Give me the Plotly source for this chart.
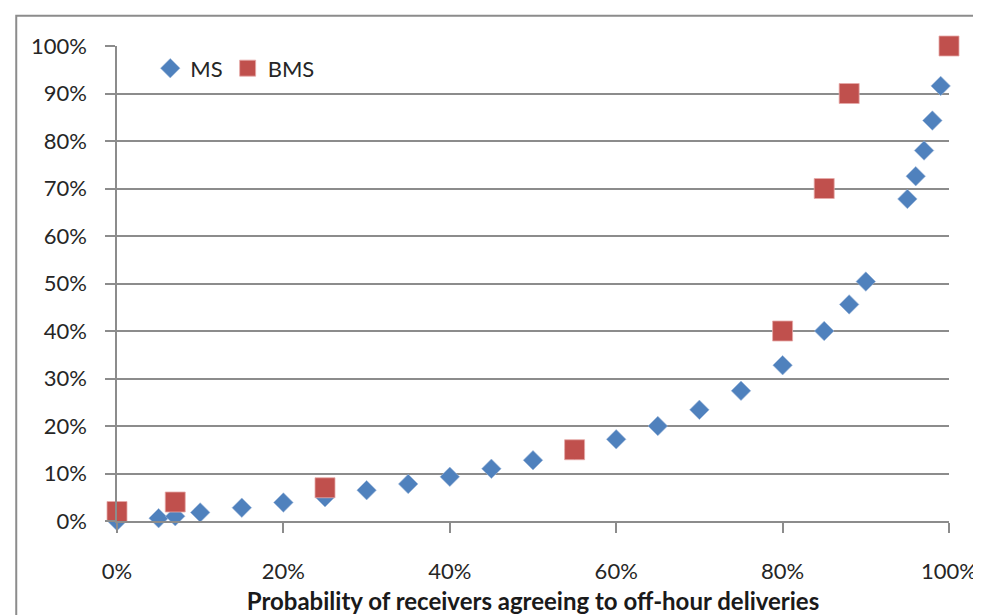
import plotly.graph_objects as go

# MS series (blue diamonds): probability of agreeing vs share
ms_x = [0, 5, 7, 10, 15, 20, 25, 30, 35, 40, 45, 50, 55, 60, 65, 70, 75, 80, 85, 88, 90, 95, 96, 97, 98, 99]
ms_y = [0, 0.6, 1.0, 1.8, 2.8, 3.9, 5.0, 6.5, 7.8, 9.3, 11.0, 12.8, 15.0, 17.2, 20.0, 23.4, 27.4, 32.8, 40.0, 45.6, 50.4, 67.8, 72.6, 78.0, 84.3, 91.6]

# BMS series (red squares)
bms_x = [0, 7, 25, 55, 80, 85, 88, 100]
bms_y = [2, 4, 7, 15, 40, 70, 90, 100]

x_title = "Probability of receivers agreeing to off-hour deliveries"

BLUE = "#4F81BD"
RED = "#C0504D"
GRID = "#8C8C8C"
FONT = "Lato"

fig = go.Figure()
fig.add_trace(go.Scatter(
    x=[v / 100 for v in ms_x], y=[v / 100 for v in ms_y],
    mode="markers", name="MS", cliponaxis=False,
    marker=dict(symbol="diamond", size=15, color=BLUE,
                line=dict(width=0.6, color="#9DB7DA")),
))
fig.add_trace(go.Scatter(
    x=[v / 100 for v in bms_x], y=[v / 100 for v in bms_y],
    mode="markers", name="BMS", cliponaxis=False,
    marker=dict(symbol="square", size=20, color=RED,
                line=dict(width=0.8, color="#E6A9A8")),
))

# outer chart-area border (left and top edges visible)
fig.add_shape(type="rect", xref="paper", yref="paper",
              x0=-0.1211, y0=-0.25, x1=1.2, y1=1.0638,
              line=dict(color=GRID, width=2), layer="below")

fig.update_layout(
    width=981, height=615,
    margin=dict(l=109, r=38, t=38, b=91),
    paper_bgcolor="white", plot_bgcolor="white",
    font=dict(family=FONT, size=22, color="#262626"),
    showlegend=True,
    legend=dict(orientation="h", x=0.04, y=0.953, xanchor="left", yanchor="middle",
                bgcolor="rgba(0,0,0,0)", font=dict(size=22), itemwidth=30),
    xaxis=dict(
        range=[0, 1], tickvals=[0, 0.2, 0.4, 0.6, 0.8, 1.0], tickformat=".0%",
        showgrid=False, zeroline=False,
        showline=True, linecolor=GRID, linewidth=1.5,
        ticks="outside", ticklen=10, tickcolor=GRID, tickwidth=1.5,
        ticklabelstandoff=20,
        title=dict(text=f"<b>{x_title}</b>", font=dict(size=24, color="#1a1a1a"), standoff=10),
    ),
    yaxis=dict(
        range=[0, 1], dtick=0.1, tickformat=".0%",
        showgrid=True, gridcolor=GRID, gridwidth=1.5, zeroline=False,
        showline=True, linecolor=GRID, linewidth=1.5,
        ticks="outside", ticklen=10, tickcolor=GRID, tickwidth=1.5,
        ticklabelstandoff=14,
    ),
)

fig.write_html("out.html")
